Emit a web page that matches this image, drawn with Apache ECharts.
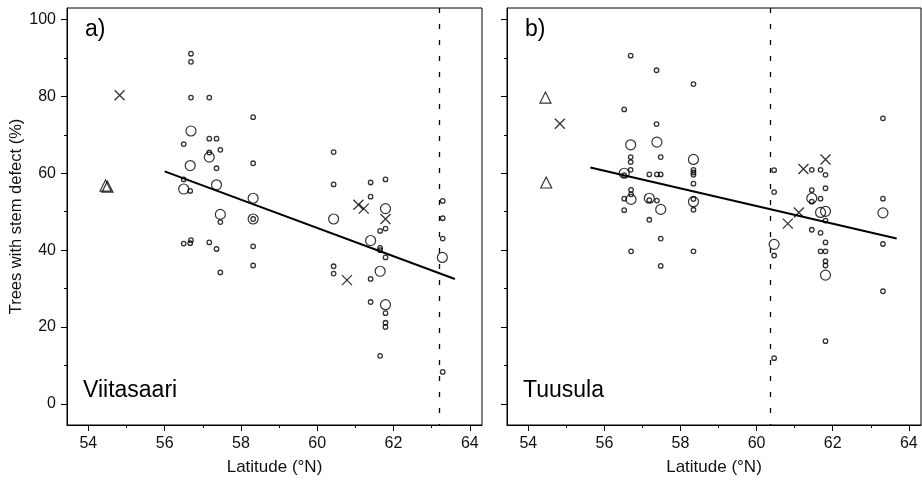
<!DOCTYPE html>
<html>
<head>
<meta charset="utf-8">
<script src="https://cdn.jsdelivr.net/npm/echarts@6/dist/echarts.min.js"></script>
<style>
html,body{margin:0;padding:0;background:#fff;}
#chart{width:922px;height:485px;}
</style>
</head>
<body>
<div id="chart"></div>
<script>
// ---- Data (latitude °N, trees with stem defect %) ----
const aSmall = [[56.69,91.1],[56.69,89.0],[56.69,79.7],[57.17,79.7],[58.32,74.6],
  [57.17,69.0],[57.36,69.0],[56.50,67.6],[57.17,65.4],[57.46,66.1],
  [57.36,61.3],[58.32,62.6],[56.50,58.4],[56.67,55.4],[57.46,47.3],[58.32,48.1],
  [56.50,41.7],[56.67,41.8],[56.69,42.6],[57.17,42.0],[57.36,40.3],[58.32,41.0],[58.32,36.0],[57.46,34.2],
  [60.43,65.5],[60.43,57.1],[61.40,57.6],[61.79,58.4],[61.40,53.9],
  [61.79,45.6],[61.65,45.0],[63.29,52.8],[63.29,48.3],[63.29,43.0],
  [61.65,40.6],[61.65,40.0],[61.79,38.1],[60.43,35.8],[60.43,33.9],[61.40,32.5],[61.40,26.5],
  [61.79,23.6],[61.79,21.1],[61.79,20.0],[61.65,12.5],[63.29,8.3]];
const aLarge = [[56.69,71.0],[57.17,64.2],[56.67,62.0],[57.36,57.0],[56.50,55.9],[58.32,53.5],
  [57.46,49.3],[58.32,48.1],[60.43,48.1],[61.79,50.8],[61.40,42.5],[63.28,38.1],[61.65,34.5],[61.79,25.8]];
const aCross = [[54.82,80.3],[61.08,51.8],[61.22,50.8],[61.79,48.1],[60.78,32.2]];
const aTriangle = [[54.45,56.8],[54.50,56.5]];
const aTrend = [[56.00,60.5],[63.61,32.5]];
const aDashedLat = 63.19;

const bSmall = [[56.69,90.6],[57.37,86.8],[58.34,83.2],[56.52,76.6],[57.37,72.8],
  [56.69,64.2],[56.69,62.9],[57.48,64.2],[58.34,60.9],[58.34,60.2],[58.34,59.6],[58.34,57.3],
  [56.69,60.9],[57.18,59.7],[57.38,59.7],[57.48,59.7],[56.52,59.5],
  [56.70,55.7],[56.70,54.5],[56.52,53.4],[57.18,53.0],[57.38,52.9],[58.34,53.3],[58.34,50.5],
  [56.52,50.4],[57.18,47.9],[57.48,43.0],[56.70,39.7],[58.34,39.7],[57.48,35.9],
  [63.32,74.3],[61.45,60.9],[61.68,60.9],[61.81,59.6],[60.46,60.8],[61.81,56.1],[60.46,55.1],
  [61.45,55.6],[61.45,52.6],[61.68,53.4],[63.32,53.4],[61.81,47.7],[61.45,45.3],[61.68,44.5],
  [61.81,42.0],[63.32,41.6],[61.68,39.7],[61.81,39.7],[60.46,38.6],[61.81,37.1],[61.81,36.0],
  [63.32,29.3],[61.81,16.3],[60.46,11.9]];
const bLarge = [[56.69,67.4],[57.38,68.1],[58.34,63.6],[56.52,60.0],[56.70,53.2],[57.18,53.5],
  [57.48,50.6],[58.34,52.6],[61.45,53.5],[61.68,49.8],[61.81,50.1],[63.32,49.7],[60.46,41.5],[61.81,33.5]];
const bCross = [[54.83,72.9],[61.81,63.6],[61.23,61.1],[61.11,49.8],[60.82,46.9]];
const bTriangle = [[54.45,79.7],[54.47,57.6]];
const bTrend = [[55.63,61.5],[63.68,43.0]];
const bDashedLat = 60.36;

const xMajorTicks = [54,56,58,60,62,64];
const xMinorTicks = [55,57,59,61,63];
const yMajorTicks = [0,20,40,60,80,100];
const yMinorTicks = [10,30,50,70,90];
const panelTags = ['a)','b)'];
const siteNames = ['Viitasaari','Tuusula'];
const xTitle = 'Latitude (°N)';
const yTitle = 'Trees with stem defect (%)';

// ---- Chart ----
const FONT = '"Liberation Sans", Arial, sans-serif';
const X_MIN = 53.44, X_MAX = 64.32, Y_MIN = -5.5, Y_MAX = 103.0;
const grids = [
  {left:67, top:8, width:415, height:417, show:true, borderColor:'#000', borderWidth:1, backgroundColor:'transparent'},
  {left:507, top:8, width:414, height:417, show:true, borderColor:'#000', borderWidth:1, backgroundColor:'transparent'}
];

const xAxes = [], yAxes = [];
[0,1].forEach(g => {
  xAxes.push({type:'value', gridIndex:g, min:X_MIN, max:X_MAX, position:'bottom',
    name: xTitle, nameLocation:'middle', nameGap:34,
    nameTextStyle:{fontFamily:FONT, fontSize:17, color:'#111'},
    axisLine:{show:true, onZero:false, lineStyle:{color:'#000', width:1}},
    axisTick:{show:true, length:6, customValues:xMajorTicks, lineStyle:{color:'#000'}},
    axisLabel:{show:true, customValues:xMajorTicks, margin:11, fontFamily:FONT, fontSize:16, color:'#111'},
    splitLine:{show:false}});
  xAxes.push({type:'value', gridIndex:g, min:X_MIN, max:X_MAX, position:'bottom',
    axisLine:{show:false, onZero:false},
    axisTick:{show:true, length:3, customValues:xMinorTicks, lineStyle:{color:'#000'}},
    axisLabel:{show:false}, splitLine:{show:false}});
  yAxes.push({type:'value', gridIndex:g, min:Y_MIN, max:Y_MAX, position:'left',
    name: g===0 ? yTitle : '', nameLocation:'middle', nameGap:40, nameRotate:90,
    nameTextStyle:{fontFamily:FONT, fontSize:16.5, color:'#111'},
    axisLine:{show:true, onZero:false, lineStyle:{color:'#000', width:1}},
    axisTick:{show:true, length:6, customValues:yMajorTicks, lineStyle:{color:'#000'}},
    axisLabel:{show:g===0, customValues:yMajorTicks, margin:11, fontFamily:FONT, fontSize:16, color:'#111'},
    splitLine:{show:false}});
  yAxes.push({type:'value', gridIndex:g, min:Y_MIN, max:Y_MAX, position:'left',
    axisLine:{show:false, onZero:false},
    axisTick:{show:true, length:3, customValues:yMinorTicks, lineStyle:{color:'#000'}},
    axisLabel:{show:false}, splitLine:{show:false}});
});

const CROSS = 'path://M0,0L10,10M10,0L0,10';
function scatter(g, data, symbol, size, bw) {
  return {type:'scatter', xAxisIndex:g*2, yAxisIndex:g*2, data:data, symbol:symbol, symbolSize:size,
    silent:true, z:3,
    itemStyle:{color:'rgba(0,0,0,0)', borderColor:'#000', borderWidth:bw}};
}
const panels = [
  {small:aSmall, large:aLarge, cross:aCross, tri:aTriangle, trend:aTrend, dash:aDashedLat},
  {small:bSmall, large:bLarge, cross:bCross, tri:bTriangle, trend:bTrend, dash:bDashedLat}
];
const series = [];
panels.forEach((p, g) => {
  series.push(scatter(g, p.small, 'circle', 4.5, 1.3));
  series.push(scatter(g, p.large, 'circle', 10, 1.2));
  series.push(scatter(g, p.cross, CROSS, 10, 1.3));
  series.push(scatter(g, p.tri, 'triangle', 11, 1.2));
  series.push({type:'line', xAxisIndex:g*2, yAxisIndex:g*2, data:p.trend, symbol:'none', silent:true,
    lineStyle:{color:'#000', width:2}, z:4,
    markLine:{silent:true, symbol:'none', label:{show:false},
      lineStyle:{color:'#000', width:1.3, type:[5,11]},
      data:[[{coord:[p.dash, Y_MAX]},{coord:[p.dash, Y_MIN]}]]}});
});

const graphics = [];
[[67,0],[507,1]].forEach(([left, i]) => {
  graphics.push({type:'text', left:left+18, top:18, style:{text:panelTags[i], font:'23px '+FONT, fill:'#000'}});
  graphics.push({type:'text', left:left+16, top:379, style:{text:siteNames[i], font:'23px '+FONT, fill:'#000'}});
});

const chart = echarts.init(document.getElementById('chart'), null, {renderer:'canvas'});
chart.setOption({
  animation:false,
  backgroundColor:'#fff',
  grid:grids, xAxis:xAxes, yAxis:yAxes, series:series, graphic:graphics
});
</script>
</body>
</html>
